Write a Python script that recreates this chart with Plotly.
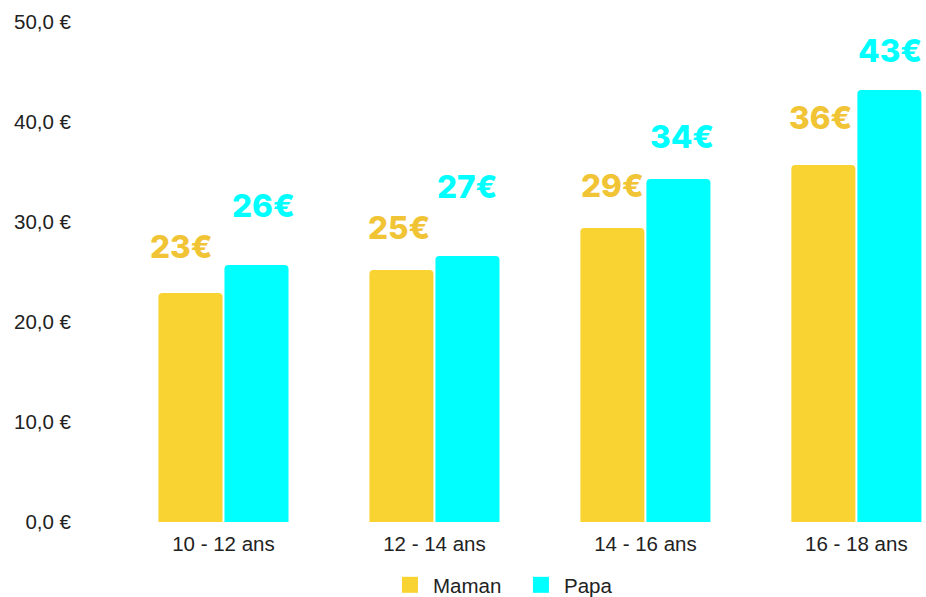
import plotly.graph_objects as go

categories = ["10 - 12 ans", "12 - 14 ans", "14 - 16 ans", "16 - 18 ans"]
maman = [22.9, 25.2, 29.4, 35.7]
papa = [25.7, 26.6, 34.3, 43.2]
maman_labels = ["23€", "25€", "29€", "36€"]
papa_labels = ["26€", "27€", "34€", "43€"]
y_ticks = [0, 10, 20, 30, 40, 50]
y_tick_labels = ["0,0 €", "10,0 €", "20,0 €", "30,0 €", "40,0 €", "50,0 €"]

MAMAN_BAR = "#F9D332"
MAMAN_TXT = "#F1C435"
PAPA_COL = "#00FFFF"

fig = go.Figure()
fig.add_trace(go.Bar(name="Maman", x=categories, y=maman, showlegend=False,
                     marker=dict(color=MAMAN_BAR, cornerradius=4, line=dict(width=0))))
fig.add_trace(go.Bar(name="Papa", x=categories, y=papa, showlegend=False,
                     marker=dict(color=PAPA_COL, cornerradius=4, line=dict(width=0))))
# legend entries with larger square swatches
for name, col in [("Maman", MAMAN_BAR), ("Papa", PAPA_COL)]:
    fig.add_trace(go.Scatter(name=name, x=[None], y=[None], mode="markers",
                             marker=dict(symbol="square", size=19, color=col)))

# label placement offsets (pixels) relative to each bar top / centre
maman_yshift = [47, 43, 43, 48]
papa_yshift = [60, 70, 43, 40]
maman_xshift = [-8, -1, 1, -2]
papa_xshift = [6, -1, 3, 0]
off = 0.161
for i in range(len(categories)):
    fig.add_annotation(x=i - off, y=maman[i], text=maman_labels[i], showarrow=False,
                       yshift=maman_yshift[i], xshift=maman_xshift[i],
                       font=dict(family="Inter", size=31.5, color=MAMAN_TXT, weight=800))
    fig.add_annotation(x=i + off, y=papa[i], text=papa_labels[i], showarrow=False,
                       yshift=papa_yshift[i], xshift=papa_xshift[i],
                       font=dict(family="Inter", size=31.5, color=PAPA_COL, weight=800))

TOP = 22
H = 605  # slightly taller than the window so the legend sits lower
fig.update_layout(
    width=926, height=H,
    margin=dict(l=118, r=0, t=TOP, b=0),
    paper_bgcolor="white", plot_bgcolor="white",
    barmode="group", bargap=0.374, bargroupgap=0.03,
    font=dict(family="Liberation Sans, Arial", size=20, color="#222222"),
    showlegend=True,
    legend=dict(orientation="h", x=0.495, xanchor="center",
                y=0, yanchor="bottom", entrywidth=80, itemwidth=36,
                font=dict(size=20.5, color="#222222"), tracegroupgap=0,
                bgcolor="rgba(0,0,0,0)"),
    xaxis=dict(range=[-0.5, 3.33], showgrid=False, showline=False, ticks="",
               automargin=False,
               ticklabelstandoff=7, tickfont=dict(size=20.5, color="#222222")),
    yaxis=dict(range=[0, 50], domain=[(H - 522) / (H - TOP), 1], automargin=False,
               tickvals=y_ticks, ticktext=y_tick_labels, showgrid=False,
               zeroline=False, showline=False, ticks="", ticklabelstandoff=46,
               tickfont=dict(size=20.5, color="#222222")),
)

fig.write_html("out.html", config={"displayModeBar": False},
               post_script="document.body.style.margin='0';document.body.style.overflow='hidden';")
